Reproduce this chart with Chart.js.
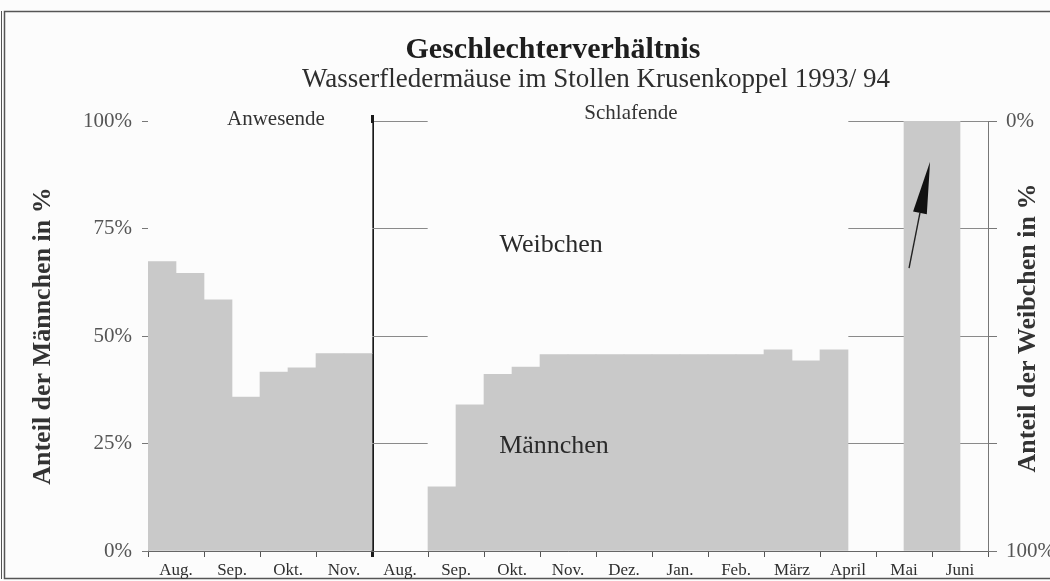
<!DOCTYPE html>
<html>
<head>
<meta charset="utf-8">
<script src="https://cdn.jsdelivr.net/npm/chart.js@4.4.1/dist/chart.umd.min.js"></script>
<style>
  html, body { margin: 0; padding: 0; background: #fcfcfc; }
  canvas { display: block; }
</style>
</head>
<body>
<canvas id="c" width="1050" height="581"></canvas>
<script>
// ---------- data ----------
const chartTitle = 'Geschlechterverhältnis';
const chartSubtitle = 'Wasserfledermäuse im Stollen Krusenkoppel 1993/ 94';
const months = ['Aug.', 'Sep.', 'Okt.', 'Nov.', 'Aug.', 'Sep.', 'Okt.', 'Nov.', 'Dez.', 'Jan.', 'Feb.', 'März', 'April', 'Mai', 'Juni'];
const sectionNames = ['Anwesende', 'Schlafende'];
const seriesNames = ['Männchen', 'Weibchen'];
const axisTitles = ['Anteil der Männchen in %', 'Anteil der Weibchen in %'];
// half-month slots (two per month)
const slotLabels = months.flatMap((m, i) => [
  (i < 4 ? sectionNames[0] : sectionNames[1]) + ' ' + m + ' I',
  (i < 4 ? sectionNames[0] : sectionNames[1]) + ' ' + m + ' II'
]);
// share of males (%) per half-month slot
const maennchen = [
  67.3, 64.6, 58.4, 35.8, 41.6, 42.6, 45.9, 45.9,          // Anwesende Aug.–Nov.
  null, null, 14.9, 34.0, 41.1, 42.8, 45.7, 45.7,          // Schlafende Aug.–Nov.
  45.7, 45.7, 45.7, 45.7, 45.7, 45.7, 46.8, 44.2,          // Dez.–März
  46.8, null, null, 100, 100, null                         // April–Juni
];
// share of females (%) per slot (complement)
const weibchen = [
  32.7, 35.4, 41.6, 64.2, 58.4, 57.4, 54.1, 54.1,
  null, null, 85.1, 66.0, 58.9, 57.2, 54.3, 54.3,
  54.3, 54.3, 54.3, 54.3, 54.3, 54.3, 53.2, 55.8,
  53.2, null, null, 0, 0, null
];
const yTickValues = [0, 25, 50, 75, 100];

// ---------- style ----------
const BG = '#fcfcfc';
const SERIF = '"Liberation Serif", "Times New Roman", serif';

const decorPlugin = {
  id: 'decor',
  beforeDraw(chart) {
    const ctx = chart.ctx;
    ctx.save();
    ctx.fillStyle = BG;
    ctx.fillRect(0, 0, chart.width, chart.height);
    // outer frame
    ctx.strokeStyle = '#555';
    ctx.lineWidth = 1.5;
    ctx.strokeRect(4.5, 11.5, chart.width + 20, chart.height - 14);
    ctx.lineWidth = 1;
    ctx.beginPath();
    ctx.moveTo(1.5, 11); ctx.lineTo(1.5, chart.height - 2);
    ctx.stroke();
    ctx.restore();
  },
  afterDraw(chart) {
    const ctx = chart.ctx;
    const xs = chart.scales.x, ys = chart.scales.y, xm = chart.scales.xm;
    const area = chart.chartArea;
    ctx.save();
    // title + subtitle
    ctx.textAlign = 'center';
    ctx.textBaseline = 'alphabetic';
    ctx.fillStyle = '#1e1e1e';
    ctx.font = 'bold 30px ' + SERIF;
    ctx.fillText(chartTitle, 553, 58);
    ctx.fillStyle = '#2e2e2e';
    ctx.font = '27px ' + SERIF;
    ctx.fillText(chartSubtitle, 596, 87);

    // divider between the two sections reaches a little above the plot
    let dx = (xs.getPixelForValue(7) + xs.getPixelForValue(8)) / 2;
    const items = xm._gridLineItems;
    if (items && items[4]) dx = items[4].x1;
    ctx.strokeStyle = '#1a1a1a';
    ctx.lineWidth = 3;
    ctx.beginPath();
    ctx.moveTo(dx, area.top - 6); ctx.lineTo(dx, area.top + 2);
    ctx.stroke();

    // section labels
    ctx.fillStyle = '#333';
    ctx.font = '21px ' + SERIF;
    ctx.textBaseline = 'middle';
    ctx.fillText(sectionNames[0], xs.getPixelForValue(4.07), ys.getPixelForValue(100.4));
    ctx.fillText(sectionNames[1], xs.getPixelForValue(16.75), ys.getPixelForValue(101.7));

    // series labels inside plot
    ctx.fillStyle = '#2a2a2a';
    ctx.font = '26px ' + SERIF;
    ctx.fillText(seriesNames[1], xs.getPixelForValue(13.9), ys.getPixelForValue(71.2));
    ctx.fillText(seriesNames[0], xs.getPixelForValue(14.0), ys.getPixelForValue(24.4));

    // right axis title (reads bottom to top)
    ctx.save();
    ctx.translate(1028, (area.top + area.bottom) / 2 - 8);
    ctx.rotate(-Math.PI / 2);
    ctx.font = 'bold 26px ' + SERIF;
    ctx.fillStyle = '#333';
    ctx.textBaseline = 'middle';
    ctx.fillText(axisTitles[1], 0, 0);
    ctx.restore();

    // arrow in the Mai/Juni bar
    const x0 = xs.getPixelForValue(26.68), y0 = ys.getPixelForValue(65.8);
    const x1 = xs.getPixelForValue(27.43), y1 = ys.getPixelForValue(90.5);
    const ang = Math.atan2(y1 - y0, x1 - x0);
    const hl = 52, hw = 7;
    const bx = x1 - Math.cos(ang) * hl, by = y1 - Math.sin(ang) * hl;
    ctx.strokeStyle = '#222';
    ctx.lineWidth = 1.4;
    ctx.beginPath();
    ctx.moveTo(x0, y0); ctx.lineTo(bx, by);
    ctx.stroke();
    ctx.fillStyle = '#111';
    ctx.beginPath();
    ctx.moveTo(x1, y1);
    ctx.lineTo(bx + Math.sin(ang) * hw, by - Math.cos(ang) * hw);
    ctx.lineTo(bx - Math.sin(ang) * hw, by + Math.cos(ang) * hw);
    ctx.closePath();
    ctx.fill();
    ctx.restore();
  }
};

new Chart(document.getElementById('c'), {
  type: 'bar',
  data: {
    labels: slotLabels,
    datasets: [
      { label: seriesNames[0], data: maennchen, backgroundColor: '#c9c9c9', borderWidth: 0,
        barPercentage: 1, categoryPercentage: 1, xAxisID: 'x', yAxisID: 'y' },
      { label: seriesNames[1], data: weibchen, backgroundColor: BG, borderWidth: 0,
        barPercentage: 1, categoryPercentage: 1, xAxisID: 'x', yAxisID: 'y' }
    ]
  },
  options: {
    responsive: false,
    devicePixelRatio: 1,
    animation: false,
    layout: { padding: { top: 121, left: 0, right: 0, bottom: 0 } },
    plugins: { legend: { display: false }, tooltip: { enabled: false }, title: { display: false } },
    scales: {
      x: { type: 'category', stacked: true, display: false, offset: true },
      xm: {
        type: 'category', labels: months, position: 'bottom', offset: true, z: 1,
        grid: {
          offset: true, drawOnChartArea: true, drawTicks: true, tickLength: 6,
          color: (c) => c.index === 4 ? '#1a1a1a' : 'rgba(0,0,0,0)',
          lineWidth: (c) => c.index === 4 ? 3 : 1,
          tickColor: (c) => c.index === 4 ? '#1a1a1a' : '#555',
          tickWidth: (c) => c.index === 4 ? 3 : 1
        },
        border: { display: true, color: '#666', width: 1 },
        ticks: { font: { family: SERIF, size: 17 }, color: '#2f2f2f', padding: 3, maxRotation: 0, autoSkip: false },
        afterFit: (s) => { s.height = 30; }
      },
      y: {
        type: 'linear', position: 'left', stacked: true, min: 0, max: 100,
        afterBuildTicks: (s) => { s.ticks = yTickValues.map(v => ({ value: v })); },
        ticks: { callback: (v) => v + '%', font: { family: SERIF, size: 21 }, color: '#555', padding: 10 },
        grid: { color: '#8a8a8a', lineWidth: 1, tickLength: 6, tickColor: '#777', drawOnChartArea: true },
        border: { display: true, color: '#777', width: 1 },
        title: { display: true, text: axisTitles[0], font: { family: SERIF, size: 26, weight: 'bold' }, color: '#333', padding: { top: 28, bottom: 0 } },
        afterFit: (s) => { s.width = 148; }
      },
      y2: {
        type: 'linear', position: 'right', reverse: true, min: 0, max: 100,
        afterBuildTicks: (s) => { s.ticks = yTickValues.map(v => ({ value: v })); },
        ticks: { callback: (v) => (v === 0 || v === 100) ? v + '%' : '', font: { family: SERIF, size: 21 }, color: '#555', padding: 9 },
        grid: { drawOnChartArea: false, tickLength: 9, tickColor: '#777' },
        border: { display: true, color: '#777', width: 1 },
        afterFit: (s) => { s.width = 62; }
      }
    }
  },
  plugins: [decorPlugin]
});
</script>
</body>
</html>
